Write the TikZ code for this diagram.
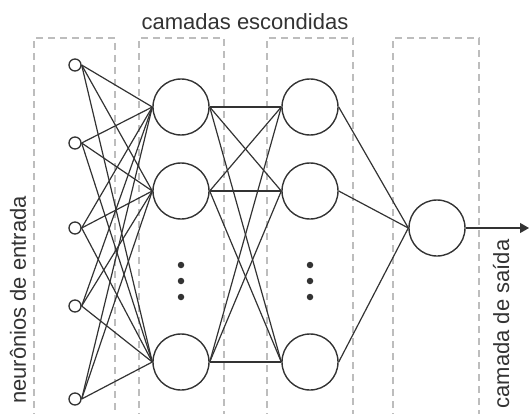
\documentclass[tikz,border=0pt]{standalone}
\usepackage{fontspec}
\setmainfont{Liberation Sans}
\usetikzlibrary{arrows.meta}
\definecolor{ink}{HTML}{333333}
\definecolor{dash}{HTML}{BDBDBD}
\begin{document}
\begin{tikzpicture}[x=1pt,y=-1pt,
  inp/.style={circle,draw=ink,line width=1.3pt,minimum size=12pt,inner sep=0pt},
  neu/.style={circle,draw=ink,line width=1.4pt,minimum size=56pt,inner sep=0pt},
  conn/.style={draw=ink,line width=1.2pt},
  box/.style={draw=dash,line width=1.3pt,dash pattern=on 7pt off 5pt},
  lbl/.style={text=ink,font=\fontsize{22}{24}\selectfont,inner sep=0pt},
  dot/.style={circle,fill=ink,minimum size=6.5pt,inner sep=0pt}]
\useasboundingbox (0,0) rectangle (529,414);
\begin{scope}
\clip (0,0) rectangle (529,414);
\draw[box] (34,420) -- (34,38) -- (115,38) -- (115,420);
\draw[box] (139,420) -- (139,38) -- (224,38) -- (224,420);
\draw[box] (267,420) -- (267,38) -- (353,38) -- (353,420);
\draw[box] (393,420) -- (393,38) -- (479,38) -- (479,420);
\end{scope}
% inputs
\node[inp] (i1) at (75,65) {};
\node[inp] (i2) at (75,143) {};
\node[inp] (i3) at (75,228) {};
\node[inp] (i4) at (75,306) {};
\node[inp] (i5) at (75,399) {};
% hidden 1
\node[neu] (a1) at (181,107) {};
\node[neu] (a2) at (181,191) {};
\node[neu] (a3) at (181,362) {};
% hidden 2
\node[neu] (b1) at (310,107) {};
\node[neu] (b2) at (310,191) {};
\node[neu] (b3) at (310,362) {};
% output
\node[neu] (o) at (437,228) {};
\coordinate (end) at (529,228);
% dots
\foreach \y [count=\k] in {265,281,297} {
  \node[dot] (da\k) at (181,\y) {};
  \node[dot] (db\k) at (310,\y) {};
}
% connections
\foreach \i in {i1,i2,i3,i4,i5}
  \foreach \a in {a1,a2,a3}
    \draw[conn] (\i.east) -- (\a.west);
\foreach \a in {a1,a2,a3}
  \foreach \b in {b1,b2,b3}
    \draw[conn] (\a.east) -- (\b.west);
\foreach \b in {b1,b2,b3}
  \draw[conn] (\b.east) -- (o.west);
\draw[conn,-{Triangle[length=9pt,width=10pt]}] (o.east) -- (end);
% labels
\node[lbl] (t1) at (245,22) {camadas escondidas};
\node[lbl,rotate=90] (t2) at (18,300) {neurônios de entrada};
\node[lbl,rotate=90] (t3) at (501,324) {camada de saída};
\end{tikzpicture}
\end{document}
